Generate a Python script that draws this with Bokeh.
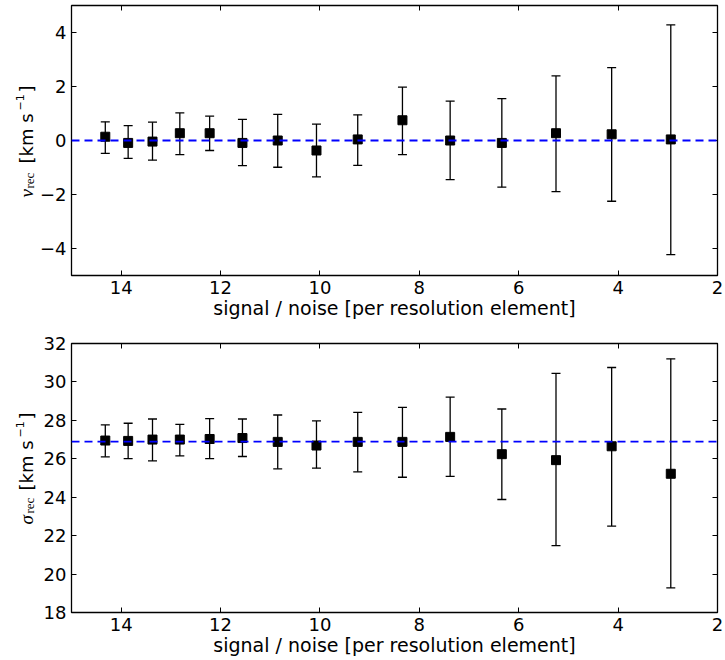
import math
from bokeh.plotting import figure
from bokeh.models import (Range1d, FixedTicker, LinearAxis, Whisker, TeeHead, Span,
                          ColumnDataSource, CustomLabelingPolicy)
from bokeh.layouts import column, row
from bokeh.embed import file_html
from bokeh.resources import INLINE

# ---------------- data ----------------
sn = [14.32, 13.86, 13.37, 12.82, 12.22, 11.56, 10.85, 10.07, 9.24, 8.34,
      7.38, 6.34, 5.25, 4.13, 2.94]

v_rec = [0.14, -0.09, -0.04, 0.27, 0.27, -0.09, 0.00, -0.37, 0.04, 0.75,
         0.00, -0.09, 0.27, 0.23, 0.04]
v_hi = [0.69, 0.55, 0.68, 1.02, 0.90, 0.78, 0.97, 0.61, 0.95, 1.98,
        1.46, 1.55, 2.39, 2.70, 4.28]
v_lo = [-0.48, -0.66, -0.73, -0.52, -0.37, -0.93, -0.99, -1.35, -0.92, -0.52,
        -1.45, -1.73, -1.89, -2.25, -4.23]
v_true = 0.0

s_rec = [26.95, 26.93, 27.00, 27.00, 27.03, 27.08, 26.88, 26.69, 26.88, 26.88,
         27.14, 26.24, 25.93, 26.65, 25.22]
s_hi = [27.76, 27.85, 28.07, 27.79, 28.09, 28.07, 28.28, 27.97, 28.42, 28.68,
        29.21, 28.59, 30.44, 30.75, 31.20]
s_lo = [26.10, 26.01, 25.89, 26.15, 26.01, 26.12, 25.48, 25.51, 25.32, 25.04,
        25.08, 23.88, 21.48, 22.50, 19.28]
s_true = 26.89

x_ticks = [2, 4, 6, 8, 10, 12, 14]
v_ticks = [-4, -2, 0, 2, 4]
s_ticks = [18, 20, 22, 24, 26, 28, 30, 32]
x_label = "signal / noise [per resolution element]"
v_label_parts = ["v", "rec", "[km s", "\u22121", "]"]
s_label_parts = ["\u03c3", "rec", "[km s", "\u22121", "]"]

X_START, X_END = 15, 2
FRAME_W = 646
LAB_W = 36
FRAME_LEFT = 71

SANS = "DejaVu Sans"
SERIF = "Liberation Serif"

HIDE_CODE = """
const arr = [...indices];
for (const i of arr) indices.unset(i);
return indices;
"""


def style_axis(ax, show_labels=True):
    ax.axis_line_color = None
    ax.major_tick_in = 5
    ax.major_tick_out = 0
    ax.major_tick_line_color = "black"
    ax.major_tick_line_width = 1
    ax.minor_tick_line_color = None
    ax.major_label_text_font = SANS
    ax.major_label_text_color = "black"
    if show_labels:
        ax.major_label_text_font_size = "18px"
    else:
        ax.major_label_text_font_size = "0px"
        ax.major_label_policy = CustomLabelingPolicy(code=HIDE_CODE)
        ax.major_label_standoff = 0


def make_panel(y, lo, hi, true, y0, y1, yticks, frame_h, top, bottom):
    p = figure(frame_width=FRAME_W, frame_height=frame_h,
               min_border_left=FRAME_LEFT - LAB_W, min_border_right=725 - FRAME_LEFT - FRAME_W,
               min_border_top=top, min_border_bottom=bottom,
               x_range=Range1d(X_START, X_END), y_range=Range1d(y0, y1),
               output_backend="svg", toolbar_location=None,
               background_fill_color="white", border_fill_color="white")
    p.grid.visible = False
    p.outline_line_color = "black"
    p.outline_line_width = 1.3

    p.xaxis.ticker = FixedTicker(ticks=x_ticks)
    p.yaxis.ticker = FixedTicker(ticks=yticks)
    style_axis(p.xaxis[0])
    style_axis(p.yaxis[0])
    p.xaxis.major_label_standoff = 5
    p.yaxis.major_label_standoff = 5
    p.yaxis.major_label_overrides = {t: ("\u2212" + str(abs(t))) for t in yticks if t < 0}
    p.xaxis.axis_label = x_label
    p.xaxis.axis_label_text_font = SANS
    p.xaxis.axis_label_text_font_size = "19px"
    p.xaxis.axis_label_text_font_style = "normal"
    p.xaxis.axis_label_text_color = "black"
    p.xaxis.axis_label_standoff = 0

    ax_top = LinearAxis(ticker=FixedTicker(ticks=x_ticks))
    style_axis(ax_top, show_labels=False)
    p.add_layout(ax_top, "above")
    ax_right = LinearAxis(ticker=FixedTicker(ticks=yticks))
    style_axis(ax_right, show_labels=False)
    p.add_layout(ax_right, "right")

    src = ColumnDataSource(dict(x=sn, y=y, lo=lo, hi=hi))
    wh = Whisker(source=src, base="x", upper="hi", lower="lo", dimension="height",
                 line_color="black", line_width=1.3, level="underlay",
                 upper_head=TeeHead(size=9, line_color="black", line_width=1.3),
                 lower_head=TeeHead(size=9, line_color="black", line_width=1.3))
    p.add_layout(wh)

    p.scatter("x", "y", source=src, marker="square", size=9,
              fill_color="black", line_color="black")

    p.add_layout(Span(location=true, dimension="width", line_color="blue",
                      line_width=1.8, line_dash="8 5"))
    return p


def make_label(parts, starts, frame_h, top, bottom, page_frame_top):
    """Narrow figure (same frame rows as its panel) holding the rotated y label.
    Its y coordinate is minus the page pixel row."""
    fonts = [SERIF, SERIF, SANS, SANS, SANS]
    sizes = ["19px", "13px", "18px", "11px", "18px"]
    styles = ["italic", "normal", "normal", "normal", "normal"]
    xs = [26, 29, 26, 19, 26]
    ys = [-s for s in starts]
    lf = figure(frame_width=LAB_W, frame_height=frame_h,
                min_border_left=0, min_border_right=0,
                min_border_top=top, min_border_bottom=bottom,
                x_range=Range1d(0, LAB_W),
                y_range=Range1d(-(page_frame_top + frame_h), -page_frame_top),
                x_axis_type=None, y_axis_type=None,
                output_backend="svg", toolbar_location=None,
                background_fill_color="white", border_fill_color="white")
    lf.grid.visible = False
    lf.outline_line_color = None
    src = ColumnDataSource(dict(x=xs, y=ys, text=parts, font=fonts, size=sizes, style=styles))
    lf.text(x="x", y="y", text="text", source=src, angle=math.pi / 2,
            text_font="font", text_font_size="size", text_font_style="style",
            text_color="black", text_align="left", text_baseline="alphabetic")
    return lf


l1 = make_label(v_label_parts, [197, 188, 163, 110, 92], 270, 5, 55, 5)
l2 = make_label(s_label_parts, [524, 513, 490, 437, 419], 269, 13, 48, 343)

p1 = make_panel(v_rec, v_lo, v_hi, v_true, -5, 5, v_ticks, 270, 5, 55)
p2 = make_panel(s_rec, s_lo, s_hi, s_true, 18, 32, s_ticks, 269, 13, 48)

layout = column(row(l1, p1, spacing=0), row(l2, p2, spacing=0), spacing=0)
open("out.html", "w").write(file_html(layout, INLINE))
